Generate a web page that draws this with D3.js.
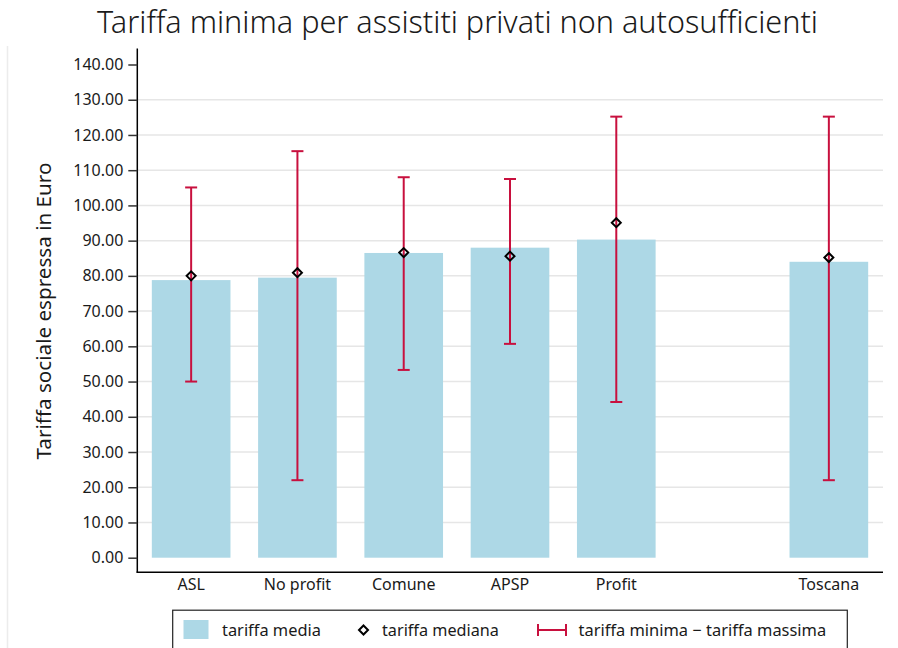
<!DOCTYPE html>
<html><head><meta charset="utf-8">
<script src="https://cdn.jsdelivr.net/npm/d3@7"></script>
<style>body{margin:0;background:#fff;} svg{display:block;} text{font-family:"Noto Sans",sans-serif;fill:#1a1a1a;}</style>
</head><body><svg id="c" width="898" height="648"></svg>
<script>
const categories = ["ASL","No profit","Comune","APSP","Profit","","Toscana"];
const mediaValues = [78.8, 79.5, 86.5, 88.0, 90.3, null, 84.0];
const medianaValues = [80.0, 80.9, 86.6, 85.6, 95.1, null, 85.2];
const minValues = [50.0, 22.0, 53.3, 60.7, 44.2, null, 22.0];
const maxValues = [105.1, 115.4, 108.0, 107.5, 125.2, null, 125.2];
const yTicks = [0,10,20,30,40,50,60,70,80,90,100,110,120,130,140];
const title = "Tariffa minima per assistiti privati non autosufficienti";
const yLabel = "Tariffa sociale espressa in Euro";
const legendLabels = ["tariffa media","tariffa mediana","tariffa minima \u2212 tariffa massima"];

const data = categories.map((c,i)=>({c, media:mediaValues[i], mediana:medianaValues[i], min:minValues[i], max:maxValues[i]})).filter(d=>d.c!=="");

const svg = d3.select("#c");
const RED = "#c8103e", BLUE = "#add8e6";
const FONT = "'Noto Sans',sans-serif";

const x = d3.scaleBand().domain(categories).range([138, 882]).paddingInner(0).paddingOuter(0);
const y = d3.scaleLinear().domain([0,140]).range([557.7, 64.5]);
const barW = x.bandwidth()*0.74;

// fit text to a target width by adjusting font size
function fit(sel, base, target){
  sel.style("font-size", base+"px");
  const w = sel.node().getComputedTextLength();
  sel.style("font-size", (base*target/w).toFixed(2)+"px");
}

// outer frame line
svg.append("line").attr("x1",7.5).attr("x2",7.5).attr("y1",46).attr("y2",648).attr("stroke","#ececec").attr("stroke-width",1.5);

// title
const t = svg.append("text").attr("x",457.5).attr("y",33).attr("text-anchor","middle").style("font-weight","300").text(title);
fit(t, 28, 721);

// gridlines
svg.append("g").selectAll("line").data(yTicks.filter(v=>v>0 && v<140)).join("line")
  .attr("x1",138).attr("x2",883).attr("y1",d=>y(d)).attr("y2",d=>y(d))
  .attr("stroke","#e6e6e6").attr("stroke-width",1.5);

// bars
svg.append("g").selectAll("rect").data(data).join("rect")
  .attr("x",d=>x(d.c)+x.bandwidth()/2-barW/2).attr("width",barW)
  .attr("y",d=>y(d.media)).attr("height",d=>y(0)-y(d.media)).attr("fill",BLUE);

// error bars
const eb = svg.append("g").attr("stroke",RED).attr("stroke-width",2).attr("fill","none");
data.forEach(d=>{
  const cx = x(d.c)+x.bandwidth()/2;
  eb.append("line").attr("x1",cx).attr("x2",cx).attr("y1",y(d.min)).attr("y2",y(d.max));
  eb.append("line").attr("x1",cx-6).attr("x2",cx+6).attr("y1",y(d.min)).attr("y2",y(d.min));
  eb.append("line").attr("x1",cx-6).attr("x2",cx+6).attr("y1",y(d.max)).attr("y2",y(d.max));
});

// median diamonds
const diamond = (cx,cy,r)=>`M${cx},${cy-r}L${cx+r},${cy}L${cx},${cy+r}L${cx-r},${cy}Z`;
svg.append("g").selectAll("path").data(data).join("path")
  .attr("d",d=>diamond(x(d.c)+x.bandwidth()/2, y(d.mediana), 4.5))
  .attr("fill","none").attr("stroke","#000").attr("stroke-width",2);

// y axis
const yAxis = svg.append("g").attr("transform","translate(137.3,0)")
  .call(d3.axisLeft(y).tickValues(yTicks).tickFormat(d3.format(".2f")).tickSize(9).tickPadding(5));
yAxis.select(".domain").attr("d","M0,48.5V572.5").attr("stroke","#000").attr("stroke-width",1.5);
yAxis.selectAll(".tick line").attr("stroke","#333").attr("stroke-width",1.5);
yAxis.selectAll(".tick text").style("font-size","16px").attr("fill","#1a1a1a").style("font-family",FONT);

// x axis
const xAxis = svg.append("g").attr("transform","translate(0,572.3)")
  .call(d3.axisBottom(x).tickValues(categories.filter(c=>c!=="")).tickSize(0).tickPadding(6));
xAxis.select(".domain").attr("d","M136.5,0H883").attr("stroke","#000").attr("stroke-width",1.5);
xAxis.selectAll(".tick text").style("font-size","16px").attr("fill","#1a1a1a").style("font-family",FONT);

// y label
const yl = svg.append("text").attr("transform","translate(51,311) rotate(-90)").attr("text-anchor","middle").text(yLabel);
fit(yl, 20, 297);

// legend
const lg = svg.append("g");
lg.append("rect").attr("x",172.7).attr("y",610.2).attr("width",674.6).attr("height",50).attr("fill","#fff").attr("stroke","#222").attr("stroke-width",1.2);
lg.append("rect").attr("x",183.5).attr("y",620).attr("width",25).attr("height",19).attr("fill",BLUE);
const l1 = lg.append("text").attr("x",222).attr("y",636).text(legendLabels[0]);
fit(l1, 16, 99);
lg.append("path").attr("d",diamond(363.5,630,4.5)).attr("fill","none").attr("stroke","#000").attr("stroke-width",2);
const l2 = lg.append("text").attr("x",382).attr("y",636).text(legendLabels[1]);
fit(l2, 16, 117);
const le = lg.append("g").attr("stroke",RED).attr("stroke-width",2);
le.append("line").attr("x1",538).attr("x2",566).attr("y1",630).attr("y2",630);
le.append("line").attr("x1",538).attr("x2",538).attr("y1",624).attr("y2",636);
le.append("line").attr("x1",566).attr("x2",566).attr("y1",624).attr("y2",636);
const l3 = lg.append("text").attr("x",578.5).attr("y",636).text(legendLabels[2]);
fit(l3, 16, 248);
</script></body></html>
